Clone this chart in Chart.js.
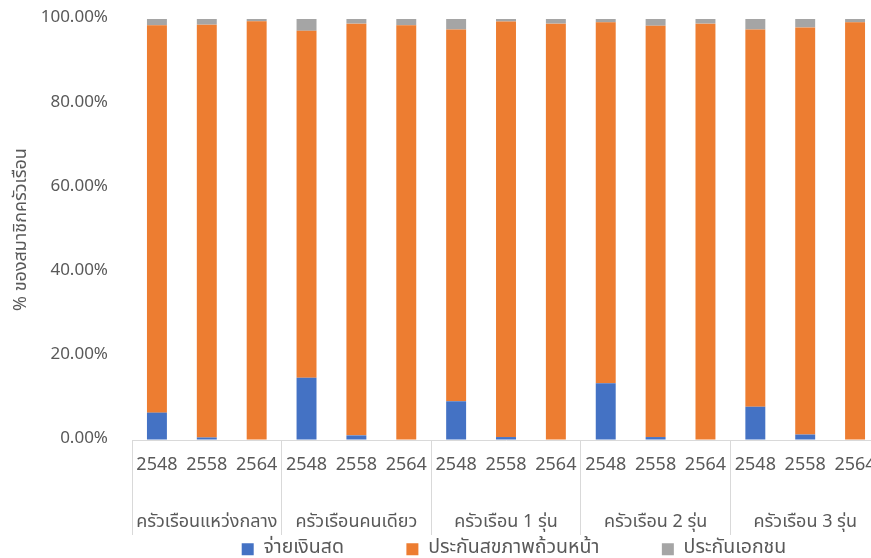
<!DOCTYPE html>
<html lang="th">
<head>
<meta charset="utf-8">
<title>สัดส่วนการจ่ายค่ารักษาพยาบาล</title>
<script src="https://cdn.jsdelivr.net/npm/chart.js@4.4.1/dist/chart.umd.min.js"></script>
<style>
  html, body { margin: 0; padding: 0; overflow: hidden; background: #fff; }
  #wrap { width: 1028px; height: 558px; }
</style>
</head>
<body>
<div id="wrap"><canvas id="payChart"></canvas></div>
<script>
const years = ['2548', '2558', '2564'];
const groups = ['ครัวเรือนแหว่งกลาง', 'ครัวเรือนคนเดียว', 'ครัวเรือน 1 รุ่น', 'ครัวเรือน 2 รุ่น', 'ครัวเรือน 3 รุ่น'];

// % ของสมาชิกครัวเรือน, ordered group by group, 2548 / 2558 / 2564
const cashPay = [6.5, 0.6, 0.0, 14.8, 1.1, 0.0, 9.2, 0.7, 0.0, 13.5, 0.7, 0.0, 7.9, 1.3, 0.0];
const universalCoverage = [92.0, 98.05, 99.45, 82.4, 97.8, 98.5, 88.3, 98.7, 98.9, 85.7, 97.7, 98.9, 89.6, 96.7, 99.2];
const privateInsurance = [1.5, 1.35, 0.55, 2.8, 1.1, 1.5, 2.5, 0.6, 1.1, 0.8, 1.6, 1.1, 2.5, 2.0, 0.8];

const yTicks = [0, 20, 40, 60, 80, 100];

const textColor = '#595959';
const lineColor = '#d9d9d9';
const clear = 'rgba(0,0,0,0)';
const fontFamily = "'Noto Sans Thai', 'Noto Sans', 'DejaVu Sans', sans-serif";

// year under every bar, group name as a second line under the middle bar
const labels = [];
groups.forEach(function (g) {
    years.forEach(function (y, j) {
        labels.push(j === 1 ? [y, g] : y);
    });
});

function groupEdge(c) {
    return c.index % 3 === 0 ? lineColor : clear;
}

// wide gaps between legend entries without growing the legend's height
const legendGap = '\u2003\u2003\u2003';
function legendItems(chart) {
    const items = Chart.defaults.plugins.legend.labels.generateLabels(chart);
    items.forEach(function (it, i) {
        if (i < items.length - 1) it.text += legendGap;
    });
    return items;
}

const ctx = document.getElementById('payChart').getContext('2d');

new Chart(ctx, {
    type: 'bar',
    data: {
        labels: labels,
        datasets: [
            { label: 'จ่ายเงินสด', data: cashPay, backgroundColor: '#4472C4' },
            { label: 'ประกันสขภาพถ้วนหน้า', data: universalCoverage, backgroundColor: '#ED7D31' },
            { label: 'ประกันเอกชน', data: privateInsurance, backgroundColor: '#A5A5A5' }
        ]
    },
    options: {
        responsive: true,
        maintainAspectRatio: false,
        animation: false,
        datasets: {
            bar: { categoryPercentage: 1, barPercentage: 0.4 }
        },
        layout: { padding: { top: 19, left: 0, right: 0, bottom: -11 } },
        scales: {
            x: {
                stacked: true,
                afterFit: function (s) { s.height = 95.5; },
                border: { display: true, color: lineColor, width: 1 },
                grid: {
                    offset: true,
                    drawOnChartArea: false,
                    drawTicks: true,
                    tickLength: 95,
                    color: groupEdge,
                    tickColor: groupEdge
                },
                ticks: {
                    autoSkip: false,
                    maxRotation: 0,
                    padding: -97.5,
                    color: textColor,
                    font: { family: fontFamily, size: 18, lineHeight: '57px' }
                }
            },
            y: {
                stacked: true,
                min: 0,
                max: 100,
                afterFit: function (s) { s.width = 132; },
                afterBuildTicks: function (s) { s.ticks = yTicks.map(function (v) { return { value: v }; }); },
                border: { display: false },
                grid: {
                    display: true,
                    drawOnChartArea: false,
                    drawTicks: true,
                    tickLength: 16,
                    tickColor: clear
                },
                ticks: {
                    padding: 8,
                    color: textColor,
                    font: { family: fontFamily, size: 17 },
                    callback: function (v) { return v.toFixed(2) + '%'; }
                },
                title: {
                    display: true,
                    text: '% ของสมาชิกครัวเรือน',
                    color: textColor,
                    padding: { top: 12, bottom: 0 },
                    font: { family: fontFamily, size: 18 }
                }
            },
            // empty right-hand box so the legend sits centred under the plot
            pad: {
                type: 'linear',
                position: 'right',
                afterFit: function (s) { s.width = 148; },
                border: { display: false },
                grid: { display: false },
                ticks: { display: false }
            }
        },
        plugins: {
            legend: {
                position: 'bottom',
                labels: {
                    boxWidth: 12,
                    boxHeight: 12,
                    padding: 4,
                    color: textColor,
                    font: { family: fontFamily, size: 19.5 },
                    generateLabels: legendItems
                }
            },
            tooltip: { enabled: false }
        }
    }
});
</script>
</body>
</html>
